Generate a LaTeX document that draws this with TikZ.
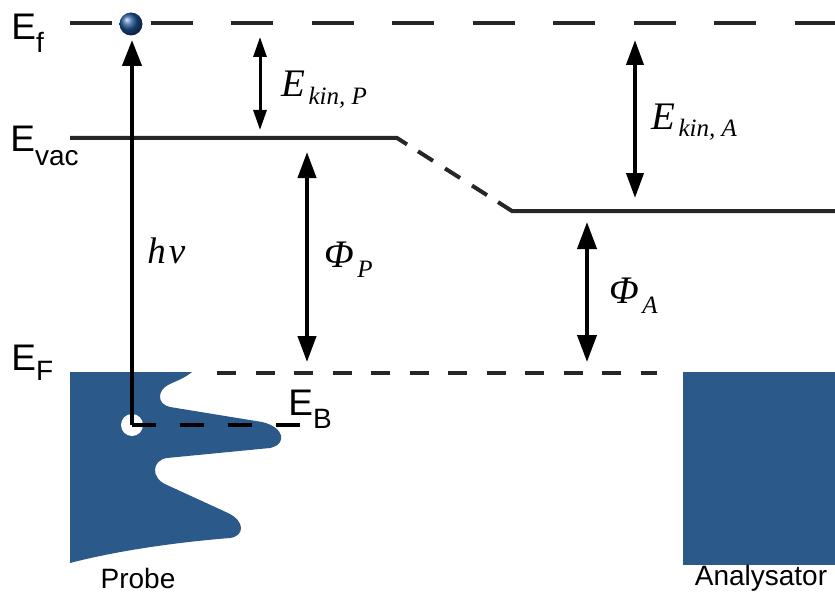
\documentclass[tikz,border=0pt]{standalone}
\usepackage{fontspec}
\setmainfont{Liberation Sans}
\newfontfamily\serifit{Liberation Serif}
\usepackage{tikz}
\usetikzlibrary{arrows.meta}
\definecolor{probeblue}{RGB}{43,90,138}
\definecolor{levelgray}{RGB}{38,38,38}
\definecolor{ballblue}{RGB}{30,85,150}
% level names: big E with a lowered subscript
\newcommand{\lvlname}[2]{{\fontsize{18.5}{20}\selectfont E}{\fontsize{14}{15}\selectfont\raisebox{-#2}{#1}}}
% italic serif symbol with subscript
\newcommand{\symlbl}[3]{{\serifit\itshape{\fontsize{19.5}{21}\selectfont #1}\,\raisebox{-#3}{\fontsize{12.5}{13}\selectfont #2}}}

\begin{document}
\begin{tikzpicture}[
    x=0.5pt, y=-0.5pt,
    level/.style={levelgray, line width=2pt},
    dbl/.style={{Triangle[length=13pt,width=9pt]}-{Triangle[length=13pt,width=9pt]}, line width=2pt},
    lbl/.style={anchor=base west, inner sep=0pt}
]
  \useasboundingbox (0,0) rectangle (835,599);

  % probe and analyser
  \fill[probeblue] (70,372) -- (192,372)
      .. controls (185,378) and (176,381) .. (168,385)
      .. controls (158,390) and (156,404) .. (170,407)
      -- (262,422) .. controls (284,427) and (288,444) .. (270,448)
      -- (167,458) .. controls (152,460) and (150,478) .. (167,485)
      -- (228,513) .. controls (245,521) and (245,536) .. (230,538)
      .. controls (180,542) and (120,550) .. (70,563) -- cycle;
  \fill[probeblue] (683,372) rectangle (835,565);

  % energy levels
  \draw[level, dash pattern=on 21pt off 19.25pt] (70,23) -- (835,23);
  \draw[level] (70,138) -- (397,138) -- (407,144.35);
  \draw[level, dash pattern=on 8.9pt off 7.1pt] (418,151.3) -- (487,195.1);
  \draw[level] (498,202.1) -- (512,211) -- (835,211);
  \draw[level, dash pattern=on 9.5pt off 9.75pt] (217,373) -- (657,373);

  % electron and hole
  \coordinate (ball) at (131,24);
  \coordinate (hole) at (132,425);
  \coordinate (EBend) at (300,425);
  \coordinate (hnutip) at (132,40);
  \shade[ball color=ballblue] (ball) circle (5.75pt);
  \fill[white] (hole) circle (5.5pt);
  \draw[line width=2.2pt, dash pattern=on 12pt off 12pt] (hole) -- (EBend);
  \draw[line width=2.2pt, -{Triangle[length=13pt,width=9.5pt]}] (hole) -- (hnutip);

  % gaps between levels
  \coordinate (kinPtop) at (260,37);   \coordinate (kinPbot) at (260,130);
  \coordinate (phiPtop) at (307,152);  \coordinate (phiPbot) at (307,362);
  \coordinate (kinAtop) at (635,40);   \coordinate (kinAbot) at (635,198);
  \coordinate (phiAtop) at (587,222);  \coordinate (phiAbot) at (587,362);
  \draw[dbl, line width=1.5pt, {Triangle[length=10pt,width=6.5pt]}-{Triangle[length=10pt,width=6.5pt]}] (kinPtop) -- (kinPbot);
  \draw[dbl] (phiPtop) -- (phiPbot);
  \draw[dbl, {Triangle[length=12.5pt,width=8.5pt]}-{Triangle[length=12.5pt,width=8.5pt]}] (kinAtop) -- (kinAbot);
  \draw[dbl, {Triangle[length=13.5pt,width=9.5pt]}-{Triangle[length=13.5pt,width=9.5pt]}] (phiAtop) -- (phiAbot);

  % labels
  \node (Ef)   at (11,40)  [lbl] {\lvlname{f}{6pt}};
  \node (Evac) at (10,152) [lbl] {\lvlname{vac}{6.5pt}};
  \node (EF)   at (11,370) [lbl] {\lvlname{F}{5pt}};
  \node (EB)   at (288,415) [lbl] {\lvlname{B}{6.5pt}};
  \node (hnu)  at (147,263) [lbl] {\serifit\itshape\fontsize{18.5}{20}\selectfont h\kern1.5pt ν};
  \node (kinP) at (281,97)  [lbl] {\symlbl{E}{kin, P}{4pt}};
  \node (kinA) at (651,129) [lbl] {\symlbl{E}{kin, A}{4pt}};
  \node (phiP) at (324,267) [lbl] {\symlbl{Φ}{P}{5pt}};
  \node (phiA) at (609,303) [lbl] {\symlbl{Φ}{A}{5pt}};
  \node (probe) at (138,578) {\fontsize{14}{15}\selectfont Probe};
  \node (analy) at (761,578) {\fontsize{14}{15}\selectfont Analysator};
\end{tikzpicture}
\end{document}
